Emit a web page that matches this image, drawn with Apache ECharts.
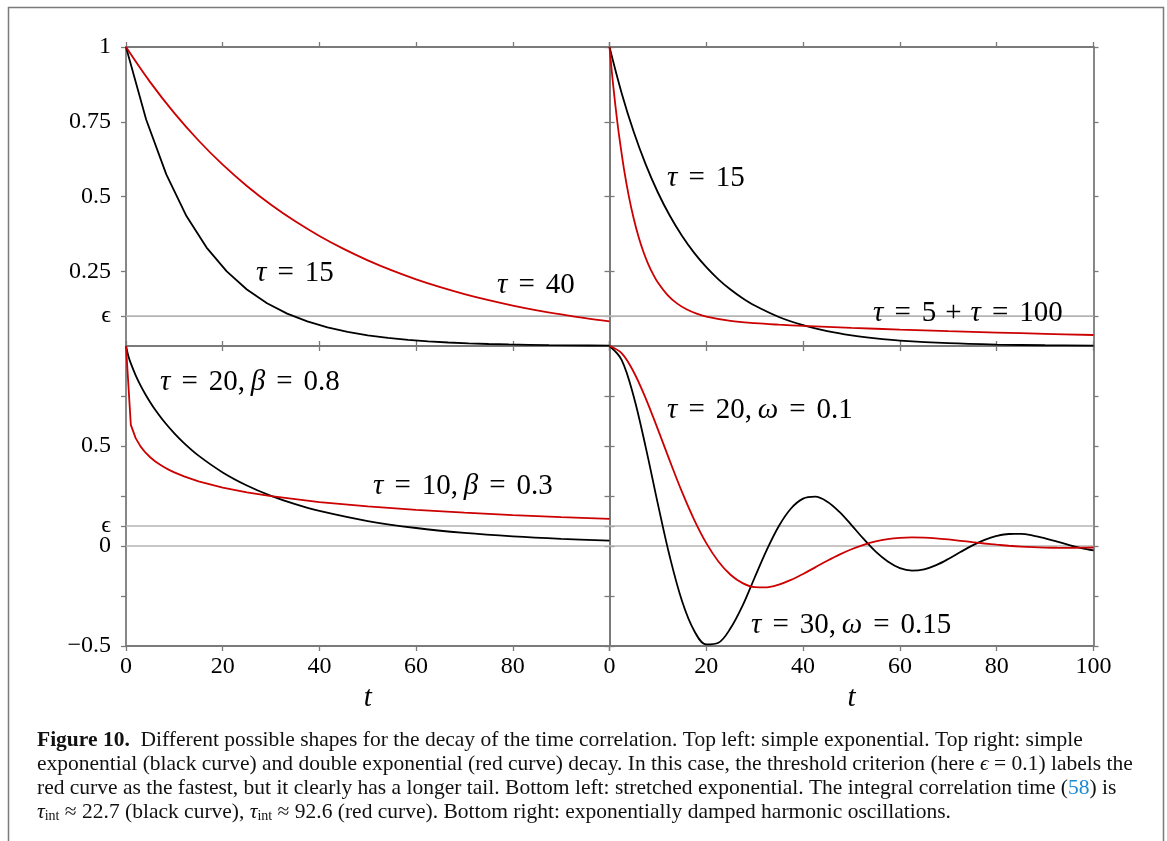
<!DOCTYPE html>
<html>
<head>
<meta charset="utf-8">
<script src="https://cdn.jsdelivr.net/npm/echarts@6/dist/echarts.min.js"></script>
<style>
html,body{margin:0;padding:0;background:#fff;}
#chart{width:1167px;height:841px;}
</style>
</head>
<body>
<div id="chart"></div>
<script>
// ---------------- data ----------------
const EPS = 0.1;
const X_RANGE = [0, 100];
const X_TICKS = [0, 20, 40, 60, 80, 100];
const X_LABELS_LEFT = [0, 20, 40, 60, 80];
const X_LABELS_RIGHT = [0, 20, 40, 60, 80, 100];
const Y_TICKS_TOP = [0.1, 0.25, 0.5, 0.75, 1];
const Y_LABELS_TOP = [0.1, 0.25, 0.5, 0.75, 1];
const Y_TICKS_BOTTOM = [-0.5, -0.25, 0, 0.1, 0.25, 0.5, 0.75];
const Y_LABELS_BOTTOM = [-0.5, 0, 0.1, 0.5];

// top left: simple exponentials
const T_TL_BLACK = [0, 4.1667, 8.3333, 12.5, 16.6667, 20.8333, 25, 29.1667, 33.3333, 37.5, 41.6667, 45.8333, 50, 54.1667, 58.3333, 62.5, 66.6667, 70.8333, 75, 79.1667, 83.3333, 87.5, 91.6667, 95.8333, 100];
const V_TL_BLACK = [1, 0.7575, 0.5738, 0.4346, 0.3292, 0.2494, 0.1889, 0.1431, 0.1084, 0.0821, 0.0622, 0.0471, 0.0357, 0.0270, 0.0205, 0.0155, 0.0117, 0.0089, 0.0067, 0.0051, 0.0039, 0.0029, 0.0022, 0.0017, 0.0013];
const T_TL_RED = [0, 5, 10, 15, 20, 25, 30, 35, 40, 45, 50, 55, 60, 65, 70, 75, 80, 85, 90, 95, 100];
const V_TL_RED = [1, 0.8825, 0.7788, 0.6873, 0.6065, 0.5353, 0.4724, 0.4169, 0.3679, 0.3247, 0.2865, 0.2528, 0.2231, 0.1969, 0.1738, 0.1534, 0.1353, 0.1194, 0.1054, 0.0930, 0.0821];

// top right: simple vs double exponential
const T_TR_BLACK = [0, 2.5, 5, 7.5, 10, 12.5, 15, 17.5, 20, 22.5, 25, 27.5, 30, 35, 40, 45, 50, 55, 60, 70, 80, 90, 100];
const V_TR_BLACK = [1, 0.8465, 0.7165, 0.6065, 0.5134, 0.4346, 0.3679, 0.3114, 0.2636, 0.2231, 0.1889, 0.1599, 0.1353, 0.0970, 0.0695, 0.0498, 0.0357, 0.0256, 0.0183, 0.0094, 0.0048, 0.0025, 0.0013];
const T_TR_RED = [0, 0.5, 1, 1.5, 2, 3, 4, 5, 6, 7, 8, 9, 10, 12, 14, 16, 18, 20, 25, 30, 35, 40, 50, 60, 70, 80, 90, 100];
const V_TR_RED = [1, 0.9139, 0.8359, 0.7652, 0.7013, 0.5910, 0.5005, 0.4262, 0.3653, 0.3152, 0.2740, 0.2402, 0.2123, 0.1703, 0.1417, 0.1219, 0.1081, 0.0984, 0.0839, 0.0763, 0.0713, 0.0673, 0.0607, 0.0549, 0.0497, 0.0449, 0.0407, 0.0368];

// bottom left: stretched exponentials
const T_BL_BLACK = [0, 0.5, 1, 2, 3, 4, 5, 6, 8, 10, 12, 15, 20, 25, 30, 35, 40, 50, 60, 70, 80, 90, 100];
const V_BL_BLACK = [1, 0.9491, 0.9130, 0.8534, 0.8032, 0.7589, 0.7190, 0.6827, 0.6185, 0.5631, 0.5145, 0.4518, 0.3679, 0.3026, 0.2508, 0.2091, 0.1753, 0.1248, 0.0900, 0.0656, 0.0482, 0.0357, 0.0267];
const T_BL_RED = [0, 1, 2, 3, 4, 5, 6, 7, 8, 9, 10, 12, 15, 20, 25, 30, 40, 50, 60, 70, 80, 90, 100];
const V_BL_RED = [1, 0.6058, 0.5395, 0.4982, 0.4678, 0.4438, 0.4240, 0.4072, 0.3925, 0.3795, 0.3679, 0.3478, 0.3233, 0.2920, 0.2681, 0.2490, 0.2197, 0.1978, 0.1805, 0.1665, 0.1547, 0.1447, 0.1360];

// bottom right: damped oscillations
const T_BR = [0, 2.5, 5, 7.5, 10, 12.5, 15, 17.5, 20, 22.5, 25, 27.5, 30, 32.5, 35, 37.5, 40, 42.5, 45, 47.5, 50, 52.5, 55, 57.5, 60, 62.5, 65, 67.5, 70, 72.5, 75, 77.5, 80, 82.5, 85, 87.5, 90, 92.5, 95, 97.5, 100];
const V_BR_BLACK = [1, 0.9310, 0.7476, 0.4920, 0.2095, -0.0577, -0.2761, -0.4237, -0.4922, -0.4838, -0.4118, -0.2984, -0.1575, -0.0194, 0.1000, 0.1875, 0.2367, 0.2464, 0.2216, 0.1706, 0.1048, 0.0353, -0.0283, -0.0776, -0.1109, -0.1230, -0.1167, -0.0957, -0.0651, -0.0304, 0.0030, 0.0309, 0.0503, 0.0601, 0.0602, 0.0523, 0.0385, 0.0217, 0.0046, -0.0105, -0.0219];
const V_BR_RED = [1, 0.9642, 0.8702, 0.7371, 0.5829, 0.4228, 0.2690, 0.1308, 0.0142, -0.0776, -0.1438, -0.1855, -0.2052, -0.2064, -0.1932, -0.1697, -0.1397, -0.1067, -0.0737, -0.0430, -0.0161, 0.0060, 0.0228, 0.0342, 0.0408, 0.0432, 0.0420, 0.0383, 0.0327, 0.0261, 0.0192, 0.0125, 0.0064, 0.0013, -0.0029, -0.0059, -0.0078, -0.0088, -0.0089, -0.0085, -0.0075];

// ---------------- styling ----------------
const AX = '#7a7a7a';
const REF = '#b4b4b4';
const RED = '#cc0000';
const SERIF = '"Liberation Serif", "DejaVu Serif", serif';

function pairs(ts, vs) { return ts.map((t, i) => [t, vs[i]]); }
function fmtY(v) {
  if (Math.abs(v - EPS) < 1e-9) return 'ϵ';
  if (v < 0) return '\u2212' + String(-v);
  return String(v);
}

const grids = [
  {left: 126, top: 47, width: 483.5, height: 299},
  {left: 609.5, top: 47, width: 484, height: 299},
  {left: 126, top: 346, width: 483.5, height: 300},
  {left: 609.5, top: 346, width: 484, height: 300}
];

const xAxes = [], yAxes = [];
for (let g = 0; g < 4; g++) {
  const isBottom = g >= 2;
  const isLeft = g % 2 === 0;
  const base = {
    type: 'value', gridIndex: g, min: X_RANGE[0], max: X_RANGE[1],
    axisLine: {show: true, onZero: false, lineStyle: {color: AX, width: 1.8}},
    axisTick: {show: true, inside: false, length: 5, customValues: X_TICKS, lineStyle: {color: AX, width: 1.3}},
    splitLine: {show: false}
  };
  xAxes.push(Object.assign({}, base, {
    position: 'bottom',
    axisLabel: isBottom ? {
      show: true, customValues: isLeft ? X_LABELS_LEFT : X_LABELS_RIGHT,
      margin: 9, color: '#000', fontFamily: SERIF, fontSize: 24
    } : {show: false},
    name: isBottom ? 't' : '',
    nameLocation: 'middle', nameGap: 38,
    nameTextStyle: {fontFamily: SERIF, fontStyle: 'italic', fontSize: 29, color: '#000'}
  }));
  xAxes.push(Object.assign({}, base, {position: 'top', axisLabel: {show: false}}));

  const yb = {
    type: 'value', gridIndex: g,
    min: isBottom ? -0.5 : 0, max: 1,
    axisLine: {show: true, onZero: false, lineStyle: {color: AX, width: 1.8}},
    axisTick: {show: true, inside: false, length: 5, customValues: isBottom ? Y_TICKS_BOTTOM : Y_TICKS_TOP, lineStyle: {color: AX, width: 1.3}},
    splitLine: {show: false}
  };
  yAxes.push(Object.assign({}, yb, {
    position: 'left',
    axisLabel: isLeft ? {
      show: true, customValues: isBottom ? Y_LABELS_BOTTOM : Y_LABELS_TOP,
      formatter: fmtY, margin: 15, color: '#000', fontFamily: SERIF, fontSize: 24
    } : {show: false}
  }));
  yAxes.push(Object.assign({}, yb, {position: 'right', axisLabel: {show: false}}));
}

const series = [];
function refLine(g, y) {
  series.push({
    type: 'line', xAxisIndex: 2 * g, yAxisIndex: 2 * g, z: 1, silent: true,
    symbol: 'none', data: [[X_RANGE[0], y], [X_RANGE[1], y]],
    lineStyle: {color: REF, width: 1.6}
  });
}
function curve(g, ts, vs, color, smooth) {
  series.push({
    type: 'line', xAxisIndex: 2 * g, yAxisIndex: 2 * g, z: 3, silent: true,
    symbol: 'none', data: pairs(ts, vs), smooth: smooth ? 0.35 : false,
    lineStyle: {color: color, width: 1.8}
  });
}
for (let g = 0; g < 4; g++) refLine(g, EPS);
refLine(2, 0); refLine(3, 0);

curve(0, T_TL_BLACK, V_TL_BLACK, '#000', false);
curve(0, T_TL_RED, V_TL_RED, RED, true);
curve(1, T_TR_BLACK, V_TR_BLACK, '#000', true);
curve(1, T_TR_RED, V_TR_RED, RED, true);
curve(2, T_BL_BLACK, V_BL_BLACK, '#000', true);
curve(2, T_BL_RED, V_BL_RED, RED, false);
curve(3, T_BR, V_BR_BLACK, '#000', true);
curve(3, T_BR, V_BR_RED, RED, true);

// ---------------- annotations ----------------
const FS = 29;
const richMath = {
  i: {fontFamily: SERIF, fontStyle: 'italic', fontSize: FS, fill: '#000'},
  n: {fontFamily: SERIF, fontSize: FS, fill: '#000'},
  e: {fontFamily: SERIF, fontSize: FS, fill: '#000', padding: [0, 11, 0, 11]},
  p: {fontFamily: SERIF, fontSize: FS, fill: '#000', padding: [0, 9, 0, 9]}
};
function mathText(x, y, parts) {
  return {
    type: 'text', x: x, y: y, z: 10, silent: true,
    style: {text: parts, rich: richMath, fontFamily: SERIF, fontSize: FS, fill: '#000', verticalAlign: 'middle', align: 'left'}
  };
}
const labels = [
  mathText(256, 273, '{i|τ}{e|=}{n|15}'),
  mathText(497, 285, '{i|τ}{e|=}{n|40}'),
  mathText(667, 178, '{i|τ}{e|=}{n|15}'),
  mathText(873, 313, '{i|τ}{e|=}{n|5}{p|+}{i|τ}{e|=}{n|100}'),
  mathText(160, 382, '{i|τ}{e|=}{n|20,\u2009}{i|β}{e|=}{n|0.8}'),
  mathText(373, 486, '{i|τ}{e|=}{n|10,\u2009}{i|β}{e|=}{n|0.3}'),
  mathText(667, 410, '{i|τ}{e|=}{n|20,\u2009}{i|ω}{e|=}{n|0.1}'),
  mathText(751, 625, '{i|τ}{e|=}{n|30,\u2009}{i|ω}{e|=}{n|0.15}')
];

const CF = 21.5;
const capRich = {
  r: {fontFamily: SERIF, fontSize: CF, fill: '#111'},
  b: {fontFamily: SERIF, fontSize: CF, fontWeight: 'bold', fill: '#111'},
  i: {fontFamily: SERIF, fontSize: CF, fontStyle: 'italic', fill: '#111'},
  s: {fontFamily: SERIF, fontSize: 14, fill: '#111', padding: [9, 0, 0, 0]},
  l: {fontFamily: SERIF, fontSize: CF, fill: '#1a8ad4'}
};
function capLine(y, text) {
  return {type: 'text', x: 37, y: y, z: 10, silent: true,
    style: {text: text, rich: capRich, fontFamily: SERIF, fontSize: CF, fill: '#111', verticalAlign: 'middle', align: 'left'}};
}
const caption = [
  capLine(740, '{b|Figure 10.}{r|  Different possible shapes for the decay of the time correlation. Top left: simple exponential. Top right: simple}'),
  capLine(764, '{r|exponential (black curve) and double exponential (red curve) decay. In this case, the threshold criterion (here }{i|ϵ}{r| = 0.1) labels the}'),
  capLine(788, '{r|red curve as the fastest, but it clearly has a longer tail. Bottom left: stretched exponential. The integral correlation time (}{l|58}{r|) is}'),
  capLine(812, '{i|τ}{s|int}{r| ≈ 22.7 (black curve), }{i|τ}{s|int}{r| ≈ 92.6 (red curve). Bottom right: exponentially damped harmonic oscillations.}')
];

const frame = {
  type: 'rect', z: 0, silent: true,
  shape: {x: 8.5, y: 7.5, width: 1155, height: 900},
  style: {fill: 'none', stroke: AX, lineWidth: 1.5}
};

const chart = echarts.init(document.getElementById('chart'), null, {renderer: 'canvas'});
chart.setOption({
  animation: false,
  backgroundColor: '#fff',
  grid: grids,
  xAxis: xAxes,
  yAxis: yAxes,
  series: series,
  graphic: [frame].concat(labels, caption)
});
</script>
</body>
</html>
